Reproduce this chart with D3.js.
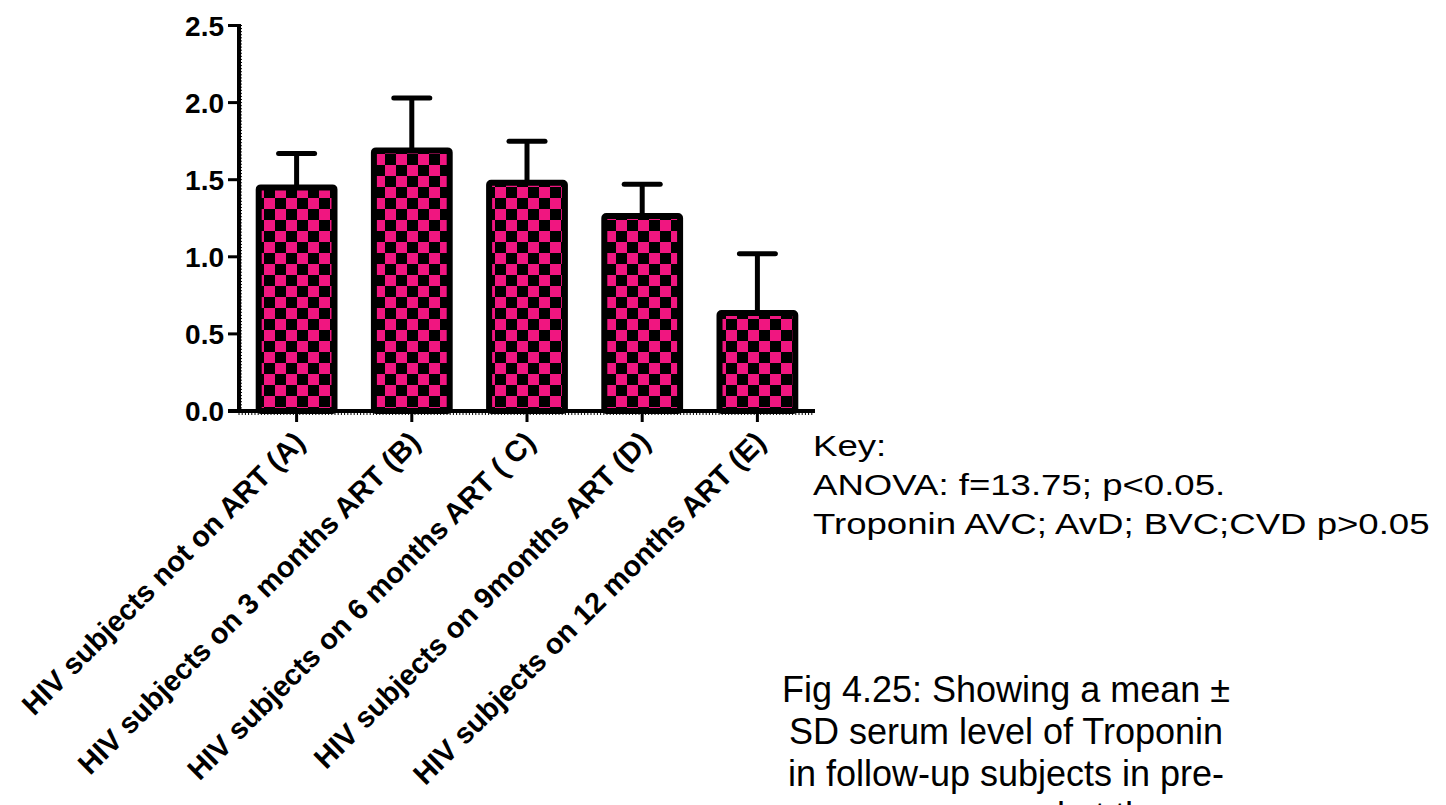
<!DOCTYPE html>
<html>
<head>
<meta charset="utf-8">
<script src="https://cdn.jsdelivr.net/npm/d3@7"></script>
<style>
  body { margin: 0; background: #fff; }
  svg { display: block; }
</style>
</head>
<body>
<div id="chart"></div>
<script>
// data
var groups = ["HIV subjects not on ART (A)", "HIV subjects on 3 months ART (B)", "HIV subjects on 6 months ART ( C)", "HIV subjects on 9months ART (D)", "HIV subjects on 12 months ART (E)"];
var means = [1.45, 1.69, 1.48, 1.265, 0.635];
var sds = [0.22, 0.34, 0.27, 0.205, 0.385];
var yTicks = [0.0, 0.5, 1.0, 1.5, 2.0, 2.5];
var keyLines = ["Key:", "ANOVA: f=13.75; p<0.05.", "Troponin AVC; AvD; BVC;CVD p>0.05"];
var captionLines = ["Fig 4.25: Showing a mean \u00b1", "SD serum level of Troponin", "in follow-up subjects in pre-", "exposure and at the"];

var width = 1446, height = 805;
var pink = "rgb(240,22,128)";

var svg = d3.select("#chart").append("svg")
    .attr("width", width)
    .attr("height", height);

// checker fill
var defs = svg.append("defs");
var pat = defs.append("pattern")
    .attr("id", "checker")
    .attr("patternUnits", "userSpaceOnUse")
    .attr("width", 22).attr("height", 22);
pat.append("rect").attr("width", 22).attr("height", 22).attr("fill", "#000");
pat.append("rect").attr("x", 0).attr("y", 0).attr("width", 11).attr("height", 11).attr("fill", pink);
pat.append("rect").attr("x", 11).attr("y", 11).attr("width", 11).attr("height", 11).attr("fill", pink);

var x = d3.scaleBand()
    .domain(groups)
    .range([239, 815])
    .paddingInner(0.29)
    .paddingOuter(0.145);

var y = d3.scaleLinear()
    .domain([0, 2.5])
    .range([411, 25.5]);

var font = "'Liberation Sans', Arial, sans-serif";

// error bars (upper only) drawn first so the bar covers the stem
var err = svg.append("g");
groups.forEach(function(g, i) {
    var cx = x(g) + x.bandwidth() / 2;
    err.append("line")
        .attr("x1", cx).attr("x2", cx)
        .attr("y1", y(means[i])).attr("y2", y(means[i] + sds[i]))
        .attr("stroke", "#000").attr("stroke-width", 5);
    err.append("line")
        .attr("x1", cx - 18).attr("x2", cx + 18)
        .attr("y1", y(means[i] + sds[i])).attr("y2", y(means[i] + sds[i]))
        .attr("stroke", "#000").attr("stroke-width", 5)
        .attr("stroke-linecap", "round");
});

// bars
svg.append("g").selectAll("rect")
    .data(groups)
    .enter()
    .append("rect")
    .attr("x", function(d) { return x(d) + 3; })
    .attr("y", function(d, i) { return y(means[i]); })
    .attr("width", x.bandwidth() - 6)
    .attr("height", function(d, i) { return y(0) - y(means[i]); })
    .attr("rx", 2)
    .attr("fill", "url(#checker)")
    .attr("stroke", "#000")
    .attr("stroke-width", 6);

// y axis
var yAxis = svg.append("g").attr("transform", "translate(239,0)");
var minor = d3.range(0, 2.5001, 0.02);
yAxis.selectAll(".minor")
    .data(minor)
    .enter()
    .append("line")
    .attr("x1", -2).attr("x2", 3)
    .attr("y1", function(d) { return y(d); })
    .attr("y2", function(d) { return y(d); })
    .attr("stroke", "#000").attr("stroke-width", 1);
yAxis.append("line")
    .attr("x1", 0).attr("x2", 0)
    .attr("y1", y(2.5) - 1.5).attr("y2", y(0) + 1.5)
    .attr("stroke", "#000").attr("stroke-width", 4);
yAxis.selectAll(".major")
    .data(yTicks)
    .enter()
    .append("line")
    .attr("x1", -11).attr("x2", 0)
    .attr("y1", function(d) { return y(d); })
    .attr("y2", function(d) { return y(d); })
    .attr("stroke", "#000").attr("stroke-width", 3);
yAxis.selectAll("text")
    .data(yTicks)
    .enter()
    .append("text")
    .attr("x", -15)
    .attr("y", function(d) { return y(d); })
    .attr("dy", "0.36em")
    .attr("text-anchor", "end")
    .attr("font-family", font)
    .attr("font-size", 28)
    .attr("font-weight", "bold")
    .text(function(d) { return d3.format(".1f")(d); });

// x axis
var xAxis = svg.append("g").attr("transform", "translate(0,411)");
var xMinor = d3.range(239, 815, 3.2);
xAxis.selectAll(".minor")
    .data(xMinor)
    .enter()
    .append("line")
    .attr("x1", function(d) { return d; })
    .attr("x2", function(d) { return d; })
    .attr("y1", -2).attr("y2", 4)
    .attr("stroke", "#000").attr("stroke-width", 1);
xAxis.append("line")
    .attr("x1", 228).attr("x2", 815)
    .attr("y1", 0).attr("y2", 0)
    .attr("stroke", "#000").attr("stroke-width", 4);
xAxis.selectAll(".major")
    .data(groups)
    .enter()
    .append("line")
    .attr("x1", function(d) { return x(d) + x.bandwidth() / 2; })
    .attr("x2", function(d) { return x(d) + x.bandwidth() / 2; })
    .attr("y1", 0).attr("y2", 11)
    .attr("stroke", "#000").attr("stroke-width", 3);
xAxis.selectAll("text")
    .data(groups)
    .enter()
    .append("text")
    .attr("transform", function(d) {
        return "translate(" + (x(d) + x.bandwidth() / 2 + 10) + ",33) rotate(-45)";
    })
    .attr("text-anchor", "end")
    .attr("font-family", font)
    .attr("font-size", 29)
    .attr("font-weight", "bold")
    .text(function(d) { return d; });

// key text
var key = svg.append("g").attr("transform", "translate(813,0) scale(1.22,1)");
key.selectAll("text")
    .data(keyLines)
    .enter()
    .append("text")
    .attr("x", 0)
    .attr("y", function(d, i) { return 456 + i * 39; })
    .attr("font-family", font)
    .attr("font-size", 30)
    .text(function(d) { return d; });

// caption
svg.append("g").selectAll("text")
    .data(captionLines)
    .enter()
    .append("text")
    .attr("x", 1006)
    .attr("y", function(d, i) { return 702 + i * 42; })
    .attr("text-anchor", "middle")
    .attr("font-family", font)
    .attr("font-size", 36)
    .text(function(d) { return d; });
</script>
</body>
</html>
